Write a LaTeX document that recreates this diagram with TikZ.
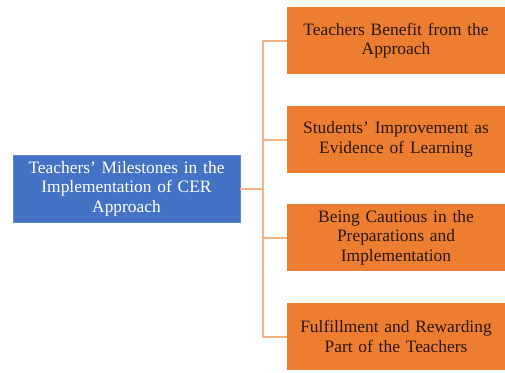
\documentclass[tikz,border=0pt]{standalone}
\usepackage{fontspec}
\setmainfont{Liberation Serif}
\definecolor{boxblue}{HTML}{4472C4}
\definecolor{boxorange}{HTML}{ED7D31}
\definecolor{linkorange}{HTML}{F4B183}
\definecolor{darktext}{HTML}{2A180C}
\begin{document}
\begin{tikzpicture}[x=1pt,y=-1pt,
  basebox/.style={rectangle, inner sep=0pt, align=center, font=\fontsize{17.4}{19.5}\selectfont},
  rootbox/.style={basebox, fill=boxblue, draw=boxblue!85!white, line width=0.8pt, text=white, minimum width=227pt, minimum height=67pt, text width=222pt},
  leafbox/.style={basebox, fill=boxorange, text=darktext, minimum width=218pt, minimum height=67pt, text width=214pt},
  link/.style={draw=linkorange, line width=2pt}]
\useasboundingbox (0,0) rectangle (505,372);
\node[rootbox] (root) at (126.5,188.5) {Teachers' Milestones in the\\Implementation of CER\\Approach};
\node[leafbox] (b1) at (396,40.5) {Teachers Benefit from the\\Approach};
\node[leafbox] (b2) at (396,139.5) {Students' Improvement as\\Evidence of Learning};
\node[leafbox] (b3) at (396,237.5) {Being Cautious in the\\Preparations and\\Implementation};
\node[leafbox] (b4) at (396,336.5) {Fulfillment and Rewarding\\Part of the Teachers};
\coordinate (t) at (263,188.5);
\draw[link] (root.east) -- (t);
\draw[link] (b1.west) -| (t);
\draw[link] (b2.west) -| (t);
\draw[link] (b3.west) -| (t);
\draw[link] (b4.west) -| (t);
\end{tikzpicture}
\end{document}
